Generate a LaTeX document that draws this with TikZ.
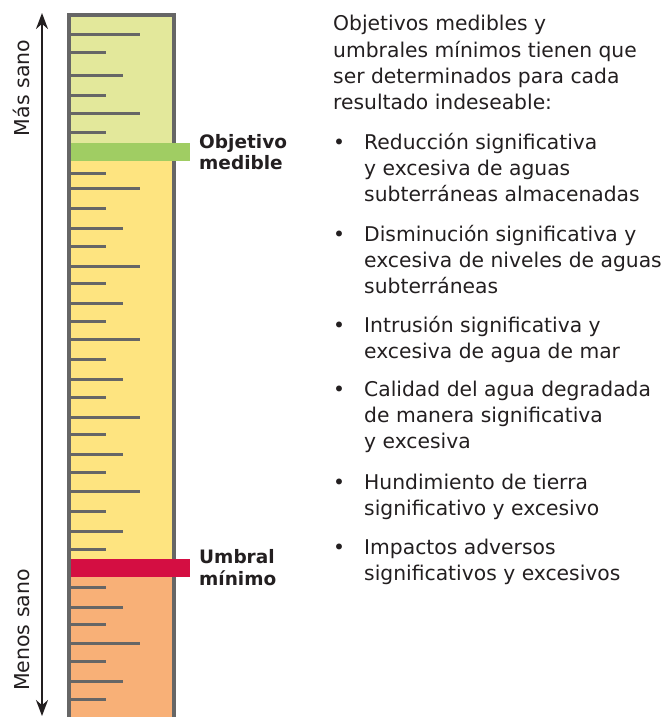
\documentclass[tikz,border=0pt]{standalone}
\usepackage{fontspec}
\setmainfont{DejaVu Sans}
\usetikzlibrary{arrows.meta}
\definecolor{gborder}{HTML}{666666}
\definecolor{ztop}{HTML}{E3E89B}
\definecolor{zmid}{HTML}{FEE480}
\definecolor{zbot}{HTML}{F8B077}
\definecolor{gbar}{HTML}{A0CD63}
\definecolor{rbar}{HTML}{D40E42}
\definecolor{txt}{HTML}{231F20}
\tikzset{
  bodytxt/.style={anchor=base west, inner sep=0pt, text=txt, font=\fontsize{20.3}{24}\selectfont},
  bullettxt/.style={anchor=base west, inner sep=0pt, text=txt, font=\fontsize{20.3}{24}\selectfont},
  labeltxt/.style={anchor=base west, inner sep=0pt, text=txt, font=\fontsize{18.5}{22}\selectfont\bfseries},
  sidetxt/.style={anchor=base, inner sep=0pt, rotate=90, text=txt, font=\fontsize{20.5}{24}\selectfont},
  tick/.style={gborder, line width=3pt},
  barbox/.style={anchor=north west, inner sep=0pt, minimum width=119pt, minimum height=18pt, draw=none},
  gaugetip/.tip={Stealth[length=16pt,width=12pt]}
}
\begin{document}
\begin{tikzpicture}[x=1pt,y=-1pt]
\useasboundingbox (0,0) rectangle (669,717);
% gauge zones
\fill[ztop] (69,15) rectangle (174,152);
\fill[zmid] (69,152) rectangle (174,568);
\fill[zbot] (69,568) rectangle (174,722);
% ticks
\foreach \y/\e in {35/140,53/106,75/123,95/106,113/140,132/106,
  173/106,188/140,208/106,228/123,246/106,266/140,283/106,303/123,321/106,
  339/140,359/106,379/123,397/106,417/140,434/106,454/123,472/106,491/140,
  511/106,531/123,549/106,587/106,607/123,624/106,643/140,661/106,681/123,699/106}
  \draw[tick] (69,\y) -- (\e,\y);
% border
\draw[gborder, line width=4.5pt] (69,725) -- (69,15) -- (174,15) -- (174,725);
% bars
\node[barbox, fill=gbar] (objbar) at (71,143) {};
\node[barbox, fill=rbar] (umbbar) at (71,559) {};
% bar labels
\node[labeltxt] (obj1) at (199,148) {Objetivo};
\node[labeltxt] (obj2) at (199,169) {medible};
\node[labeltxt] (umb1) at (199,563) {Umbral};
\node[labeltxt] (umb2) at (199,585) {mínimo};
% side arrow
\coordinate (arrtop) at (42,13);
\coordinate (arrbot) at (42,716);
\draw[txt, line width=2pt, {gaugetip}-{gaugetip}] (arrbot) -- (arrtop);
\node[sidetxt] (mas) at (29,88) {Más sano};
\node[sidetxt] (menos) at (29,630) {Menos sano};
% intro text
\node[bodytxt] (i1) at (333,31) {Objetivos medibles y};
\node[bodytxt] (i2) at (333,57) {umbrales mínimos tienen que};
\node[bodytxt] (i3) at (333,83) {ser determinados para cada};
\node[bodytxt] (i4) at (333,109) {resultado indeseable:};
% bullets
\foreach \n/\y in {b1/149,b2/241,b3/332,b4/396,b5/489,b6/554}
  \node[bullettxt] (\n) at (333,\y) {•};
\node[bodytxt] (a1) at (364,149) {Reducción significativa};
\node[bodytxt] (a2) at (364,175) {y excesiva de aguas};
\node[bodytxt] (a3) at (364,201) {subterráneas almacenadas};
\node[bodytxt] (c1) at (364,241) {Disminución significativa y};
\node[bodytxt] (c2) at (364,267) {excesiva de niveles de aguas};
\node[bodytxt] (c3) at (364,293) {subterráneas};
\node[bodytxt] (d1) at (364,332) {Intrusión significativa y};
\node[bodytxt] (d2) at (364,358) {excesiva de agua de mar};
\node[bodytxt] (e1) at (364,396) {Calidad del agua degradada};
\node[bodytxt] (e2) at (364,422) {de manera significativa};
\node[bodytxt] (e3) at (364,448) {y excesiva};
\node[bodytxt] (f1) at (364,489) {Hundimiento de tierra};
\node[bodytxt] (f2) at (364,515) {significativo y excesivo};
\node[bodytxt] (g1) at (364,554) {Impactos adversos};
\node[bodytxt] (g2) at (364,580) {significativos y excesivos};
\end{tikzpicture}
\end{document}
